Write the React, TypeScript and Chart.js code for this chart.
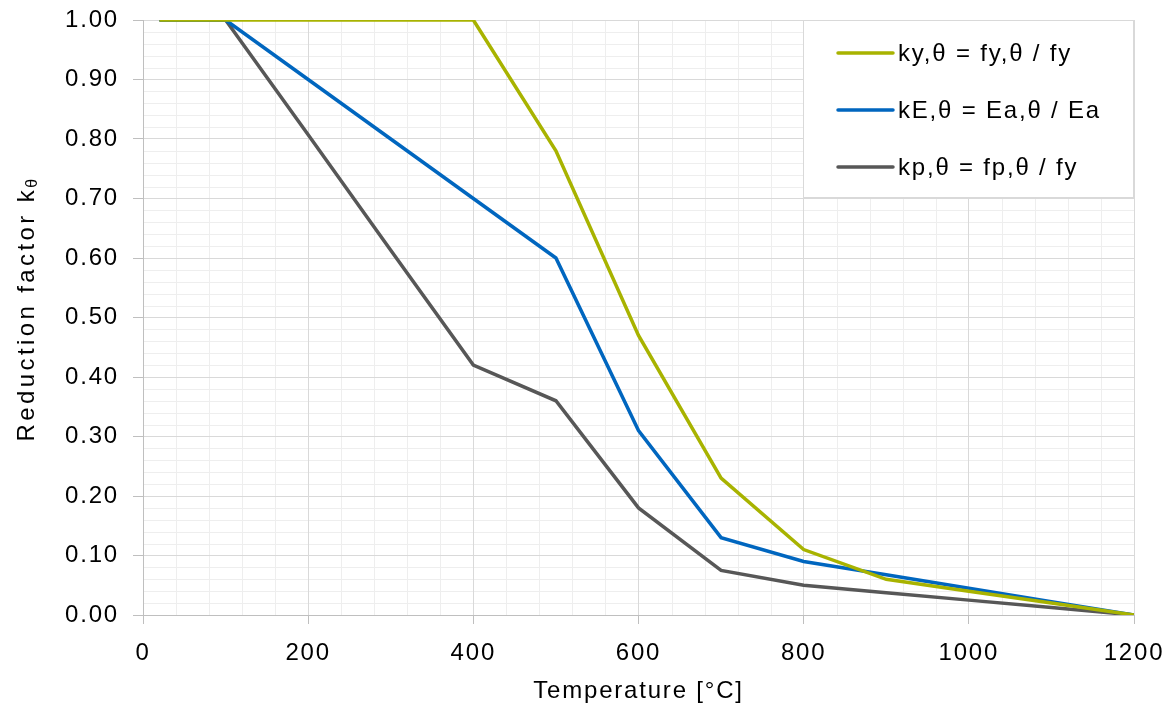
import React, { useEffect, useRef } from 'react';
import { Chart, registerables } from 'chart.js';

Chart.register(...registerables);

const temperatures = [20, 100, 200, 300, 400, 500, 600, 700, 800, 900, 1000, 1100, 1200];
const kyTheta = [1, 1, 1, 1, 1, 0.78, 0.47, 0.23, 0.11, 0.06, 0.04, 0.02, 0];
const kETheta = [1, 1, 0.9, 0.8, 0.7, 0.6, 0.31, 0.13, 0.09, 0.0675, 0.045, 0.0225, 0];
const kpTheta = [1, 1, 0.807, 0.613, 0.42, 0.36, 0.18, 0.075, 0.05, 0.0375, 0.025, 0.0125, 0];
const seriesLabels = ['ky,θ = fy,θ / fy', 'kE,θ = Ea,θ / Ea', 'kp,θ = fp,θ / fy'];
const seriesColors = ['#a8b300', '#0066bf', '#575757'];
const xTitle = 'Temperature [°C]';
const yTitleMain = 'Reduction factor k';
const yTitleSub = 'θ';

const FONT = "'Liberation Sans', Arial, sans-serif";
const FS = 24;
const SPACING = '1.8px';

const minorGridPlugin = {
  id: 'minorGrid',
  beforeDraw(chart: any) {
    const { ctx, chartArea, scales } = chart;
    const x = scales.x;
    const y = scales.y;
    ctx.letterSpacing = SPACING;
    ctx.save();
    ctx.fillStyle = '#ffffff';
    ctx.fillRect(0, 0, chart.width, chart.height);
    ctx.strokeStyle = '#eeeeee';
    ctx.lineWidth = 1;
    for (let v = 40; v < 1200; v += 40) {
      if (v % 200 === 0) continue;
      const px = Math.round(x.getPixelForValue(v)) + 0.5;
      ctx.beginPath();
      ctx.moveTo(px, chartArea.top);
      ctx.lineTo(px, chartArea.bottom);
      ctx.stroke();
    }
    for (let i = 1; i < 50; i++) {
      if (i % 5 === 0) continue;
      const py = Math.round(y.getPixelForValue(i * 0.02)) + 0.5;
      ctx.beginPath();
      ctx.moveTo(chartArea.left, py);
      ctx.lineTo(chartArea.right, py);
      ctx.stroke();
    }
    ctx.restore();
  },
};

const overlayPlugin = {
  id: 'overlay',
  afterDraw(chart: any) {
    const { ctx, chartArea } = chart;
    ctx.save();
    // Y-axis title with subscript
    ctx.letterSpacing = '3.4px';
    const subFont = `${Math.round(FS * 0.66)}px ${FONT}`;
    ctx.font = `${FS}px ${FONT}`;
    const w1 = ctx.measureText(yTitleMain).width;
    ctx.font = subFont;
    const w2 = ctx.measureText(yTitleSub).width;
    const cy = chartArea.top + 288;
    ctx.translate(27, cy);
    ctx.rotate(-Math.PI / 2);
    ctx.fillStyle = '#000';
    ctx.textBaseline = 'middle';
    ctx.textAlign = 'left';
    const sx = -(w1 + w2) / 2;
    ctx.font = `${FS}px ${FONT}`;
    ctx.fillText(yTitleMain, sx, 0);
    ctx.font = subFont;
    ctx.fillText(yTitleSub, sx + w1 - 1, 6);
    ctx.restore();

    // Legend
    ctx.save();
    const bw = 331;
    const bh = 177;
    const bx = chartArea.right - bw;
    const by = chartArea.top;
    ctx.fillStyle = '#ffffff';
    ctx.fillRect(bx, by, bw, bh);
    ctx.strokeStyle = '#d9d9d9';
    ctx.lineWidth = 1;
    ctx.strokeRect(Math.round(bx) + 0.5, Math.round(by) + 0.5, bw - 1, bh);
    ctx.font = `${FS}px ${FONT}`;
    ctx.textBaseline = 'middle';
    ctx.textAlign = 'left';
    chart.data.datasets.forEach((ds: any, i: number) => {
      const ry = by + 33 + i * 57;
      ctx.strokeStyle = ds.borderColor;
      ctx.lineWidth = 3.5;
      ctx.lineCap = 'round';
      ctx.beginPath();
      ctx.moveTo(bx + 35, ry);
      ctx.lineTo(bx + 90, ry);
      ctx.stroke();
      ctx.fillStyle = '#000';
      ctx.fillText(ds.label, bx + 95, ry + 1);
    });
    ctx.restore();
  },
};

export default function App() {
  const canvasRef = useRef<HTMLCanvasElement | null>(null);

  useEffect(() => {
    const canvas = canvasRef.current;
    if (!canvas) return;
    const makeData = (vals: number[]) => temperatures.map((t, i) => ({ x: t, y: vals[i] }));
    const chart = new Chart(canvas, {
      type: 'line',
      data: {
        datasets: [kyTheta, kETheta, kpTheta].map((vals, i) => ({
          label: seriesLabels[i],
          data: makeData(vals),
          borderColor: seriesColors[i],
          backgroundColor: seriesColors[i],
          borderWidth: 3.5,
          pointRadius: 0,
          tension: 0,
          fill: false,
        })),
      },
      options: {
        animation: false,
        responsive: false,
        maintainAspectRatio: false,
        layout: { padding: { top: 20, right: 41, left: 0, bottom: 0 } },
        plugins: {
          legend: { display: false },
          tooltip: { enabled: false },
        },
        scales: {
          x: {
            type: 'linear',
            min: 0,
            max: 1200,
            ticks: {
              stepSize: 200,
              color: '#000',
              font: { family: FONT, size: FS },
              padding: 15,
              maxRotation: 0,
              callback: (v: any) => String(v),
            },
            grid: { color: '#d9d9d9', tickLength: 9, tickColor: '#bfbfbf' },
            border: { color: '#bfbfbf' },
            title: {
              display: true,
              text: xTitle,
              color: '#000',
              font: { family: FONT, size: FS },
              padding: { top: 0, bottom: 2 },
            },
            afterFit: (scale: any) => {
              scale.height = 93;
              scale.paddingLeft = 0;
              scale.paddingRight = 0;
            },
          },
          y: {
            type: 'linear',
            min: 0,
            max: 1,
            ticks: {
              stepSize: 0.1,
              color: '#000',
              font: { family: FONT, size: FS },
              padding: 14,
              callback: (v: any) => Number(v).toFixed(2),
            },
            grid: { color: '#d9d9d9', tickLength: 10, tickColor: '#bfbfbf' },
            border: { color: '#bfbfbf' },
            afterFit: (scale: any) => {
              scale.width = 143;
              scale.paddingTop = 0;
              scale.paddingBottom = 0;
            },
          },
        },
      },
      plugins: [minorGridPlugin, overlayPlugin],
    });
    return () => chart.destroy();
  }, []);

  return (
    <div style={{ position: 'fixed', left: 0, top: 0, width: 1175, height: 708, background: '#fff' }}>
      <canvas ref={canvasRef} width={1175} height={708} style={{ width: 1175, height: 708, display: 'block' }} />
    </div>
  );
}
